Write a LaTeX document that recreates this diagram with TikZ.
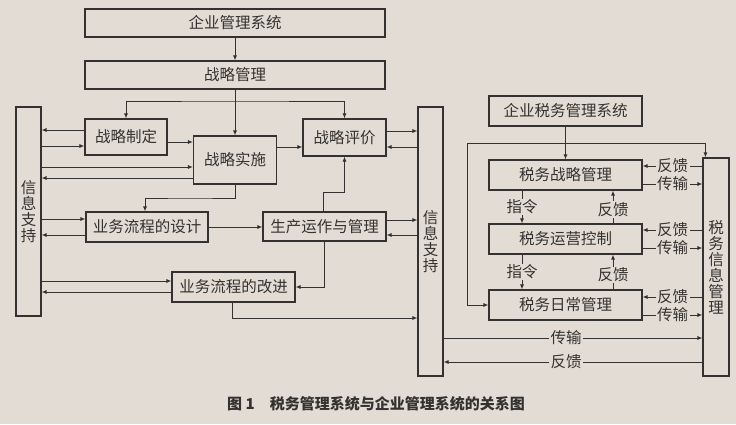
\documentclass[tikz,border=0pt]{standalone}
\usepackage{fontspec}
\newfontfamily\cjk{Noto Sans CJK SC}
\usetikzlibrary{arrows.meta}
\definecolor{bg}{RGB}{226,220,212}
\definecolor{ink}{RGB}{52,50,48}
\tikzset{
  box/.style={draw=ink, line width=1.1pt, text=ink, inner sep=0pt, font=\cjk\fontsize{15.5}{18}\selectfont},
  bar/.style={box, align=center, font=\cjk\fontsize{15.5}{16}\selectfont},
  lbl/.style={fill=bg, text=ink, inner xsep=1.5pt, inner ysep=1pt, font=\cjk\fontsize{15.5}{16}\selectfont}
}

\begin{document}
\begin{tikzpicture}[x=1pt, y=-1pt, >={Latex[length=5pt,width=4pt]}, line width=0.9pt, color=ink]
    \fill[bg] (0,0) rectangle (736,424);
    \useasboundingbox (0,0) rectangle (736,424);

    \node[box, minimum width=300pt, minimum height=28pt] (qy) at (235,23) {企业管理系统};
    \node[box, minimum width=300pt, minimum height=28pt] (zl) at (235,75) {战略管理};
    \node[bar, minimum width=25pt, minimum height=209pt] (xx1) at (28.5,211.5) {信\\息\\支\\持};
    \node[box, minimum width=82pt, minimum height=36pt] (zd) at (126,137) {战略制定};
    \node[box, minimum width=83pt, minimum height=48pt] (ss) at (235,160) {战略实施};
    \node[box, minimum width=83pt, minimum height=37pt] (pj) at (344.5,137.5) {战略评价};
    \node[bar, minimum width=25pt, minimum height=269pt] (xx2) at (430.5,241.5) {信\\息\\支\\持};
    \node[box, minimum width=122pt, minimum height=30pt] (sj) at (147,227) {业务流程的设计};
    \node[box, minimum width=123pt, minimum height=29pt] (sc) at (324.5,226.5) {生产运作与管理};
    \node[box, minimum width=123pt, minimum height=30pt] (gj) at (233.5,287) {业务流程的改进};

    \node[box, minimum width=153pt, minimum height=30pt] (sw) at (565.5,111) {企业税务管理系统};
    \node[box, minimum width=153pt, minimum height=30pt] (swzl) at (565.5,175) {税务战略管理};
    \node[box, minimum width=153pt, minimum height=30pt] (swyy) at (565.5,239) {税务运营控制};
    \node[box, minimum width=153pt, minimum height=30pt] (swrc) at (565.5,305) {税务日常管理};
    \node[bar, minimum width=26pt, minimum height=218pt] (xx3) at (716,267) {税\\务\\信\\息\\管\\理};

    \coordinate (c1) at (235,101);
    \coordinate (c2) at (190,198);
    \coordinate (c4) at (467,143);

    \draw[->] (qy) -- (zl);
    \draw[->] (zl) -- (ss);
    \draw[<->] (zd.north) |- (c1) -| (pj.north);
    \draw[->] (zd.west |- 0,130) -- (xx1.east |- 0,130);
    \draw[->] (xx1.east |- 0,146) -- (zd.west |- 0,146);
    \draw[->] (zd.east |- 0,142) -- (ss.west |- 0,142);
    \draw[->] (xx1.east |- 0,167) -- (ss.west |- 0,167);
    \draw[->] (ss.west |- 0,178) -- (xx1.east |- 0,178);
    \draw[->] (ss.east |- 0,147) -- (pj.west |- 0,147);
    \draw[->] (pj.east |- 0,131) -- (xx2.west |- 0,131);
    \draw[->] (xx2.west |- 0,147) -- (pj.east |- 0,147);
    \draw[->] (ss.south) |- (c2) -| ([xshift=-2pt]sj.north);
    \draw[->] (xx1.east |- 0,219) -- (sj.west |- 0,219);
    \draw[->] (sj.west |- 0,235) -- (xx1.east |- 0,235);
    \draw[->] (sj.east) -- (sc.west |- sj.east);
    \draw[->] (sc.east |- 0,220) -- (xx2.west |- 0,220);
    \draw[->] (xx2.west |- 0,235) -- (sc.east |- 0,235);
    \draw[->] ([xshift=-1.5pt]sc.north) -- ++(0,-19) -| (pj.south);
    \draw[->] (sc.south) |- (gj.east);
    \draw[->] (xx1.east |- 0,281) -- (gj.west |- 0,281);
    \draw[->] (gj.west |- 0,292) -- (xx1.east |- 0,292);
    \draw[->] ([xshift=-1.5pt]gj.south) |- (xx2.west |- 0,318);

    \draw[->] (sw) -- (swzl);
    \draw[<->] ([xshift=3pt]xx3.north west) |- (c4) |- (swrc.west);
    \foreach \a/\b in {swzl/swyy, swyy/swrc}{
        \draw[->] (\a.south -| 522,0) -- node[lbl]{指令} (\b.north -| 522,0);
        \draw[->] (\b.north -| 613,0) -- node[lbl, pos=0.42]{反馈} (\a.south -| 613,0);
    }
    \foreach \b/\u/\d in {swzl/166/184, swyy/230/248, swrc/297/315}{
        \draw[->] (xx3.west |- 0,\u) -- node[lbl]{反馈} (\b.east |- 0,\u);
        \draw[->] (\b.east |- 0,\d) -- node[lbl]{传输} (xx3.west |- 0,\d);
    }
    \draw[->] (xx2.east |- 0,338) -- node[lbl, pos=0.473]{传输} (xx3.west |- 0,338);
    \draw[->] (xx3.west |- 0,362) -- node[lbl, pos=0.527]{反馈} (xx2.east |- 0,362);

    \node[text=ink, font=\cjk\bfseries\fontsize{15}{16}\selectfont] (cap) at (376,404) {图 1\quad 税务管理系统与企业管理系统的关系图};
\end{tikzpicture}
\end{document}
